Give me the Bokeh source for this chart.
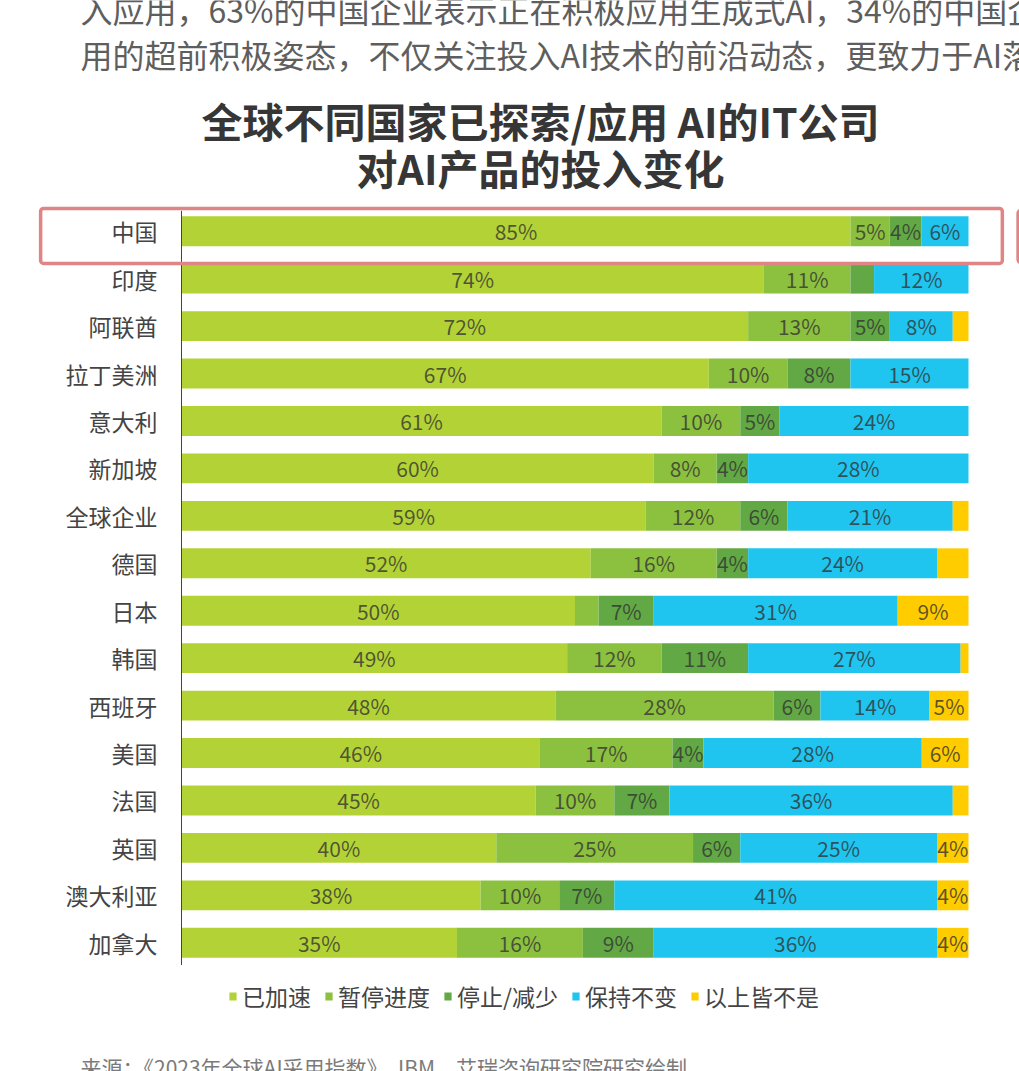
from bokeh.plotting import figure
from bokeh.models import (Range1d, Label, BoxAnnotation, Legend, LegendItem,
                          ColumnDataSource)
from bokeh.embed import file_html
from bokeh.resources import INLINE
from bokeh.core.properties import value

FONT = "Noto Sans CJK SC"

countries = ["中国", "印度", "阿联酋", "拉丁美洲", "意大利", "新加坡", "全球企业", "德国",
             "日本", "韩国", "西班牙", "美国", "法国", "英国", "澳大利亚", "加拿大"]
accelerated = [85, 74, 72, 67, 61, 60, 59, 52, 50, 49, 48, 46, 45, 40, 38, 35]
paused = [5, 11, 13, 10, 10, 8, 12, 16, 3, 12, 28, 17, 10, 25, 10, 16]
stopped = [4, 3, 5, 8, 5, 4, 6, 4, 7, 11, 6, 4, 7, 6, 7, 9]
unchanged = [6, 12, 8, 15, 24, 28, 21, 24, 31, 27, 14, 28, 36, 25, 41, 36]
none_above = [0, 0, 2, 0, 0, 0, 2, 4, 9, 1, 5, 6, 2, 4, 4, 4]

series_names = ["已加速", "暂停进度", "停止/减少", "保持不变", "以上皆不是"]
series_values = [accelerated, paused, stopped, unchanged, none_above]
colors = ["#b3d235", "#8cc03f", "#62a844", "#1fc5ef", "#ffcc00"]

# (series, row) pairs whose percentage is not printed on the bar
hidden_labels = {(2, 1), (1, 8), (4, 0), (4, 1), (4, 2), (4, 3), (4, 4),
                 (4, 5), (4, 6), (4, 7), (4, 9), (4, 12)}

n = len(countries)
idx = list(range(n))
totals = [sum(s[i] for s in series_values) for i in idx]

# each row is drawn as shares of its own total, so every bar spans the full width
keys = [f"s{k}" for k in range(len(series_values))]
data = {"idx": idx}
for k, vals in zip(keys, series_values):
    data[k] = [v / t * 100 for v, t in zip(vals, totals)]
src = ColumnDataSource(data)

lx, ly, lt = [], [], []
for i in idx:
    start = 0.0
    for k, vals in enumerate(series_values):
        w = data[keys[k]][i]
        if vals[i] > 0 and (k, i) not in hidden_labels:
            lx.append(start + w / 2)
            ly.append(i)
            lt.append(f"{vals[i]}%")
        start += w
label_src = ColumnDataSource(dict(x=lx, y=ly, t=lt))
cat_src = ColumnDataSource(dict(y=idx, name=countries))

W, H = 1019, 1071
# the frame fills the page; the bar area runs from x=181 to x=968 px,
# rows are 47.44 px apart with the first row centred at y=230.7 px
X_PX, ROW_PX = 7.87, 759 / 16
x0 = -181 / X_PX
x1 = (W - 181) / X_PX
y_top = -0.5 - 207 / ROW_PX
y_bot = -0.5 + (H - 207) / ROW_PX

p = figure(width=W, height=H, output_backend="svg", toolbar_location=None,
           x_range=Range1d(x0, x1), y_range=Range1d(y_bot, y_top),
           x_axis_location=None, y_axis_location=None,
           min_border=0)
p.outline_line_color = None
p.grid.visible = False
p.background_fill_color = "white"

bars = p.hbar_stack(keys, y="idx", height=0.63, color=colors, line_color=None,
                    source=src)

# category axis: vertical rule plus right-aligned names
p.segment(x0=[0], y0=[-0.43], x1=[0], y1=[n - 0.53], line_color="#444444",
          line_width=1)
p.text(x=0, y="y", text="name", source=cat_src, x_offset=-24,
       text_align="right", text_baseline="middle", text_font=value(FONT),
       text_font_size="23px", text_color="#444444")

p.text(x="x", y="y", text="t", source=label_src, text_align="center",
       text_baseline="middle", text_font=value(FONT), text_font_size="21px",
       text_color="#333333", text_alpha=0.78)

# highlight frame around the China row
p.add_layout(BoxAnnotation(left=-17.9, right=104.3, top=-0.48, bottom=0.68,
                           fill_alpha=0, line_color="#e08585", line_alpha=1,
                           line_width=3.5, border_radius=3))
p.add_layout(BoxAnnotation(left=106.3, right=112, top=-0.44, bottom=0.66,
                           fill_alpha=0, line_color="#e08585", line_alpha=1,
                           line_width=3.5, border_radius=3))

legend = Legend(items=[LegendItem(label=nm, renderers=[r])
                       for nm, r in zip(series_names, bars)],
                orientation="horizontal", location=(228, 58),
                glyph_width=9, glyph_height=10, label_standoff=5, spacing=13,
                padding=0, margin=0, border_line_color=None,
                background_fill_alpha=0, label_text_font=FONT,
                label_text_font_size="23px", label_text_color="#444444")
p.add_layout(legend)


def screen_label(text, px, py, size, color, bold=False, align="left"):
    p.add_layout(Label(x=px, y=H - py, x_units="screen", y_units="screen",
                       text=text, text_font=FONT, text_font_size=size,
                       text_color=color,
                       text_font_style="bold" if bold else "normal",
                       text_align=align, text_baseline="middle"))


screen_label("入应用，63%的中国企业表示正在积极应用生成式AI，34%的中国企",
             80, 8, "32px", "#5e5e5e")
screen_label("用的超前积极姿态，不仅关注投入AI技术的前沿动态，更致力于AI落",
             80, 53, "32px", "#5e5e5e")
screen_label("全球不同国家已探索/应用 AI的IT公司", 540, 119, "41px", "#363636",
             bold=True, align="center")
screen_label("对AI产品的投入变化", 540, 166, "41px", "#363636",
             bold=True, align="center")
screen_label("来源：《2023年全球AI采用指数》，IBM，艾瑞咨询研究院研究绘制。",
             80, 1066, "21px", "#7a7a7a")

open("out.html", "w").write(file_html(p, INLINE))
